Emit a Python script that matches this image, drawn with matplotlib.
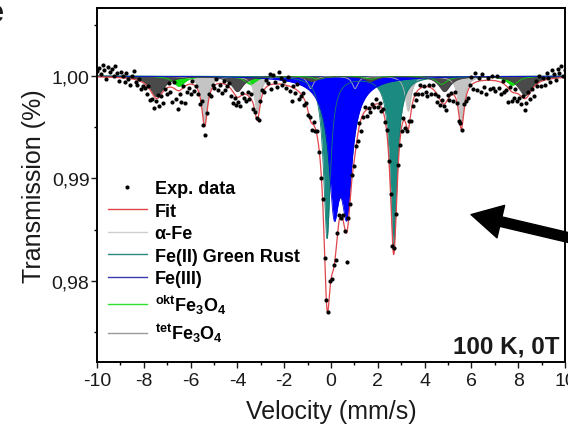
import numpy as np
import matplotlib
matplotlib.use("Agg")
import matplotlib.pyplot as plt
from matplotlib.lines import Line2D
from matplotlib.ticker import MultipleLocator, FixedLocator

plt.rcParams['font.family'] = ['Liberation Sans', 'DejaVu Sans']
plt.rcParams['mathtext.fontset'] = 'custom'
plt.rcParams['mathtext.rm'] = 'Liberation Sans'
plt.rcParams['mathtext.bf'] = 'Liberation Sans:bold'
plt.rcParams['mathtext.it'] = 'Liberation Sans:italic'

# Fitted sub-spectra: line positions (mm/s), depths, half widths (mm/s)
alpha_fe_pos = [-5.40, -3.15, -0.87, 1.03, 3.30, 5.57]
alpha_fe_depth = [0.0046, 0.0034, 0.0012, 0.0012, 0.0034, 0.0046]
alpha_fe_hwhm = [0.15, 0.15, 0.15, 0.15, 0.15, 0.15]

green_rust_pos = [-0.17, 2.68]
green_rust_depth = [0.0158, 0.0165]
green_rust_hwhm = [0.18, 0.18]

# Fe(III): narrow doublet plus a broad underlying line
fe3_pos = [0.13, 0.68, 0.40]
fe3_depth = [0.0098, 0.0098, 0.0030]
fe3_hwhm = [0.25, 0.25, 0.70]

okt_pos = [-6.50, -3.45, -0.53, 1.73, 4.73, 7.75]
okt_depth = [0.0010, 0.0008, 0.0003, 0.0003, 0.0008, 0.0009]
okt_hwhm = [0.30, 0.30, 0.30, 0.30, 0.30, 0.30]

tet_pos = [-7.45, -4.00, -0.81, 1.67, 4.85, 8.30]
tet_depth = [0.0020, 0.0015, 0.0005, 0.0005, 0.0015, 0.0019]
tet_hwhm = [0.35, 0.30, 0.30, 0.30, 0.30, 0.35]

# measured counts minus fit, in units of 1e-4 (one row per mm/s)
exp_scatter = [
    6, 9, 3, 12, 7, -2, 10, 5, 8, 1, 11, 4, -3,
    6, 2, -4, 5, -1, -6, 3, 8, -2, -5, 2, -7, -3,
    -4, -8, 2, -10, -6, -12, -3, 3, -9, -2, -11, 1, -6,
    4, -5, -14, 6, -9, -18, -3, -12, 2, -16, -7, -4, -10,
    3, -6, 1, -4, -8, 5, -3, -10, -2, 4, -5, 2,
    -3, 5, -6, -2, -9, 3, -5, -1, 4, -7, -11, -3, -8,
    -5, -9, 2, -4, -7, 3, -2, 5, -6, -1, 2, -4, 3,
    5, -2, 7, 3, 11, -4, 9, 2, -3, 12, 6, -1, 4,
    -3, 8, -5, -14, 2, -4, 6, -7, -2, 3, -5, 1,
    -4, 2, -6, 3, -2, 5, -3, -8, 4, -5, 2, -3, 6,
    -4, 3, -6, 2, 5, -3, 4, -2, -28, 3, -5, 2, -4,
    3, -5, 2, -12, -3, 4, -6, 1, -4, 3, -2, 5, -3,
    2, -4, 3, -2, 4, -3, 2, -5, 3, -2, 4, -3,
    -4, 3, -6, -2, 5, -8, -3, 2, -7, -4, 3, -6, 1,
    -5, -9, 2, -6, 4, -3, -8, 1, -5, 3, -2, -7, 5,
    -3, 2, -6, 4, -2, -9, 3, -4, 6, -3, -7, 2, 8,
    -5, 9, -8, 3, -11, 6, -6, -13, 2, -9, 4, -7,
    -10, 5, -6, -12, 2, -8, -4, -14, 3, -9, -5, 4, -7,
    -3, -8, 2, -11, -5, 3, -6, 1, -9, 4, -2, 6, -4,
    3, -5, 6, 1, -3, 8, 4, -2, 9, 5, 11, 2, 7,
]

x_ticks = [-10, -8, -6, -4, -2, 0, 2, 4, 6, 8, 10]
y_ticks = [0.98, 0.99, 1.00]
y_ticklabels = ['0,98', '0,99', '1,00']


def lorentz_sum(v, centers, depths, hwhm):
    out = np.zeros_like(v)
    for c, d, g in zip(centers, depths, hwhm):
        out += d / (1.0 + ((v - c) / g) ** 2)
    return out


v = np.linspace(-10, 10, 2001)
channels = np.linspace(-10, 10, len(exp_scatter))

components = [
    # (pos, depth, hwhm, fill colour, line colour)
    (alpha_fe_pos, alpha_fe_depth, alpha_fe_hwhm, '#c4c4c4', '#b8b8b8'),
    (okt_pos, okt_depth, okt_hwhm, '#10e010', '#10d010'),
    (green_rust_pos, green_rust_depth, green_rust_hwhm, '#1b8a80', '#167a70'),
    (fe3_pos, fe3_depth, fe3_hwhm, '#0000ff', '#0000e0'),
    (tet_pos, tet_depth, tet_hwhm, '#4a4a4a', '#404040'),
]

fig = plt.figure(figsize=(5.68, 4.27), dpi=100)
ax = fig.add_axes([0.1708, 0.1499, 0.8239, 0.8291])

total = np.zeros_like(v)
total_ch = np.zeros_like(channels)
for pos, depth, hw, fc, lc in components:
    absorb = lorentz_sum(v, pos, depth, hw)
    total += absorb
    total_ch += lorentz_sum(channels, pos, depth, hw)
    ax.fill_between(v, 1.0, 1.0 - absorb, color=fc, lw=0)
    ax.plot(v, 1.0 - absorb, color=lc, lw=0.6)

ax.plot(v, 1.0 - total, color='#e0464c', lw=0.9)
exp_data = 1.0 - total_ch + np.array(exp_scatter) * 1e-4
ax.plot(channels, exp_data, 'o', ms=3.0, color='black', mec='none')

ax.set_xlim(-10, 10)
ax.set_ylim(0.97210, 1.00663)
ax.set_xticks(x_ticks)
ax.set_xticklabels([str(t) for t in x_ticks])
ax.xaxis.set_minor_locator(MultipleLocator(1))
ax.set_yticks(y_ticks)
ax.set_yticklabels(y_ticklabels)
ax.yaxis.set_minor_locator(FixedLocator([0.975, 0.985, 0.995, 1.005]))
ax.tick_params(which='major', direction='out', length=4, width=1.0,
               labelsize=14, colors='#1a1a1a')
ax.tick_params(which='minor', direction='out', length=2.5, width=1.0)
ax.tick_params(axis='y', pad=1.5)
for sp in ax.spines.values():
    sp.set_linewidth(1.4)

ax.set_xlabel('Velocity (mm/s)', fontsize=18, color='#1a1a1a', labelpad=7)
ax.set_ylabel('Transmission (%)', fontsize=18, color='#1a1a1a', labelpad=4)

handles = [
    Line2D([], [], ls='none', marker='o', ms=3.0, color='black', mec='none'),
    Line2D([], [], color='#e0464c', lw=1.0),
    Line2D([], [], color='#cfcfcf', lw=1.0),
    Line2D([], [], color='#2a8a7c', lw=1.0),
    Line2D([], [], color='#3a3ab0', lw=1.0),
    Line2D([], [], color='#30e030', lw=1.0),
    Line2D([], [], color='#9a9a9a', lw=1.0),
]
labels = [
    'Exp. data', 'Fit', 'α-Fe', 'Fe(II) Green Rust', 'Fe(III)',
    r'$^{\mathbf{okt}}$Fe$_{\mathbf{3}}$O$_{\mathbf{4}}$',
    r'$^{\mathbf{tet}}$Fe$_{\mathbf{3}}$O$_{\mathbf{4}}$',
]
ax.legend(handles, labels, loc='upper left', bbox_to_anchor=(0.023, 0.513),
          frameon=False, borderpad=0, borderaxespad=0, handlelength=2.15,
          handletextpad=0.45, labelspacing=0.3, numpoints=1,
          prop={'size': 13, 'weight': 'bold'})

ax.text(0.989, 0.028, '100 K, 0T', transform=ax.transAxes, ha='right',
        va='baseline', fontsize=17.5, fontweight='bold', color='#1a1a1a')

ax.annotate('', xy=(5.87, 0.98654), xytext=(10.4, 0.9841),
            arrowprops=dict(arrowstyle='simple,head_length=1.1,head_width=1.2,tail_width=0.35',
                            mutation_scale=20, color='black'),
            annotation_clip=False)

fig.text(4 / 568, 1 - 14 / 427, 'e', ha='right', va='center', fontsize=22,
         fontweight='bold', color='#1a1a1a')

fig.savefig('out.png', dpi=100)
